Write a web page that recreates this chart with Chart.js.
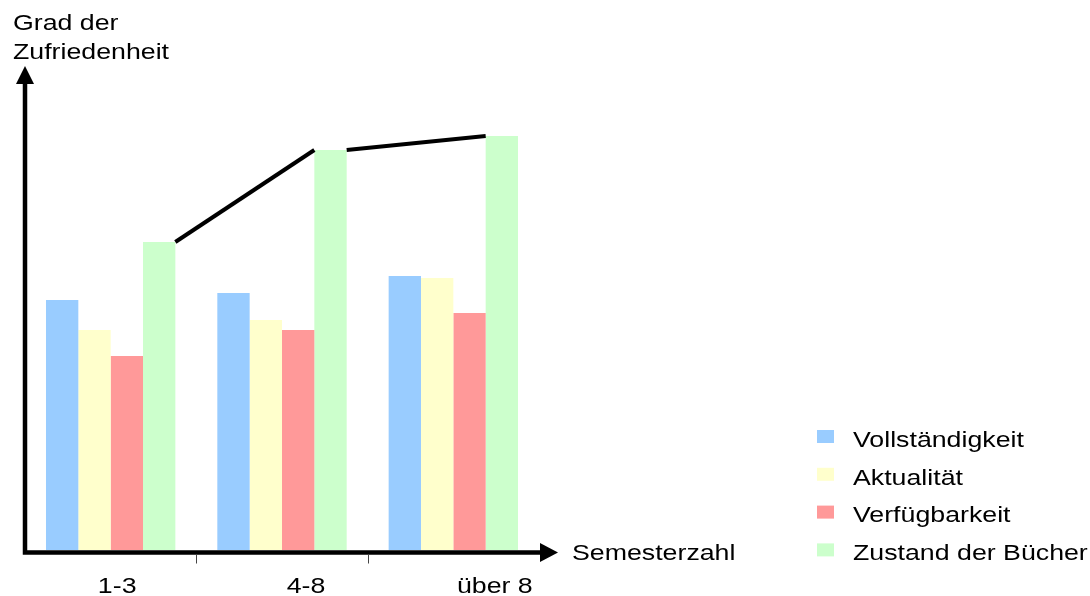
<!DOCTYPE html>
<html lang="de">
<head>
<meta charset="UTF-8" />
<title>Grad der Zufriedenheit nach Semesterzahl</title>
<script src="https://cdn.jsdelivr.net/npm/chart.js"></script>
<style>
  html, body { margin: 0; padding: 0; background: #fff; }
</style>
</head>
<body>
<canvas id="myChart" width="1090" height="596"></canvas>
<script>
const semester = ["1-3", "4-8", "über 8"];
const vollstaendigkeit = [2.50, 2.57, 2.74];
const aktualitaet = [2.20, 2.30, 2.72];
const verfuegbarkeit = [1.94, 2.20, 2.37];
const zustand = [3.08, 4.00, 4.14];
const seriesNames = ["Vollständigkeit", "Aktualität", "Verfügbarkeit", "Zustand der Bücher"];
const seriesColors = ["#99ccff", "#ffffcc", "#ff9999", "#ccffcc"];
const yMax = 4.84;

const FONT = "'Liberation Sans', Arial, sans-serif";
const TEXT_STRETCH = 1.215;   // the text in this chart is set a bit wide
const LABEL_SHIFT = 24;       // category labels sit right of the bar groups...
const LABEL_SPREAD = 1.102;   // ...and are spaced a little wider than the groups

function wideText(ctx, text, x, y, align) {
  ctx.save();
  ctx.translate(x, y);
  ctx.scale(TEXT_STRETCH, 1);
  ctx.textAlign = align;
  ctx.fillText(text, 0, 0);
  ctx.restore();
}

// axes with arrowheads, trend line over the green bars, titles and legend
const decorations = {
  id: "decorations",
  afterDatasetsDraw(chart) {
    const ctx = chart.ctx;
    const { left, right, top, bottom } = chart.chartArea;
    const xs = chart.scales.x;
    ctx.save();

    // line joining the tops of the "Zustand" bars, edge to edge
    const bars = chart.getDatasetMeta(3).data;
    ctx.strokeStyle = "#000";
    ctx.lineWidth = 4;
    for (let i = 0; i < bars.length - 1; i++) {
      const a = bars[i], b = bars[i + 1];
      ctx.beginPath();
      ctx.moveTo(a.x + a.width / 2, a.y);
      ctx.lineTo(b.x - b.width / 2, b.y);
      ctx.stroke();
    }

    // axis lines
    const ax = left;
    const ay = bottom + 2.5;
    ctx.lineWidth = 4.5;
    ctx.beginPath();
    ctx.moveTo(ax, ay + 2);
    ctx.lineTo(ax, top + 16);
    ctx.moveTo(ax - 2.2, ay);
    ctx.lineTo(right + 2, ay);
    ctx.stroke();

    // arrowheads
    ctx.fillStyle = "#000";
    ctx.beginPath();
    ctx.moveTo(ax, top);
    ctx.lineTo(ax + 9, top + 18);
    ctx.lineTo(ax - 9, top + 18);
    ctx.closePath();
    ctx.fill();
    ctx.beginPath();
    ctx.moveTo(right + 19, ay);
    ctx.lineTo(right + 1, ay - 9.5);
    ctx.lineTo(right + 1, ay + 9.5);
    ctx.closePath();
    ctx.fill();

    // small separators between the categories
    ctx.strokeStyle = "#444";
    ctx.lineWidth = 1;
    for (let i = 1; i < semester.length; i++) {
      const px = Math.round((xs.getPixelForValue(i - 1) + xs.getPixelForValue(i)) / 2) + 0.5;
      ctx.beginPath();
      ctx.moveTo(px, ay + 2);
      ctx.lineTo(px, ay + 11);
      ctx.stroke();
    }

    ctx.font = "22px " + FONT;
    ctx.textBaseline = "alphabetic";
    ctx.fillStyle = "#000";

    // category labels
    const mid = (left + right) / 2;
    semester.forEach((lab, i) => {
      const px = mid + LABEL_SHIFT + (xs.getPixelForValue(i) - mid) * LABEL_SPREAD;
      wideText(ctx, lab, px, 593, "center");
    });

    // axis titles
    wideText(ctx, "Grad der", 13, 29.5, "left");
    wideText(ctx, "Zufriedenheit", 13, 58.5, "left");
    wideText(ctx, "Semesterzahl", right + 33, ay + 7.5, "left");

    // legend
    chart.data.datasets.forEach((d, i) => {
      const y0 = 430 + i * 37.8;
      ctx.fillStyle = d.backgroundColor;
      ctx.fillRect(817, y0, 17, 13);
      ctx.fillStyle = "#000";
      wideText(ctx, d.label, 853, y0 + 16.7, "left");
    });

    ctx.restore();
  }
};

const seriesValues = [vollstaendigkeit, aktualitaet, verfuegbarkeit, zustand];

new Chart(document.getElementById("myChart"), {
  type: "bar",
  data: {
    labels: semester,
    datasets: seriesValues.map((vals, i) => ({
      label: seriesNames[i],
      data: vals,
      backgroundColor: seriesColors[i],
      borderWidth: 0,
      categoryPercentage: 0.755,
      barPercentage: 1.0
    }))
  },
  options: {
    responsive: false,
    animation: false,
    layout: { padding: { left: 25, right: 551, top: 66, bottom: 0 } },
    plugins: {
      legend: { display: false },
      tooltip: { enabled: false }
    },
    scales: {
      x: {
        grid: { display: false, drawTicks: false },
        border: { display: false },
        ticks: { display: false },
        afterFit(scale) { scale.height = 46; }
      },
      y: {
        display: false,
        min: 0,
        max: yMax
      }
    }
  },
  plugins: [decorations]
});
</script>
</body>
</html>
